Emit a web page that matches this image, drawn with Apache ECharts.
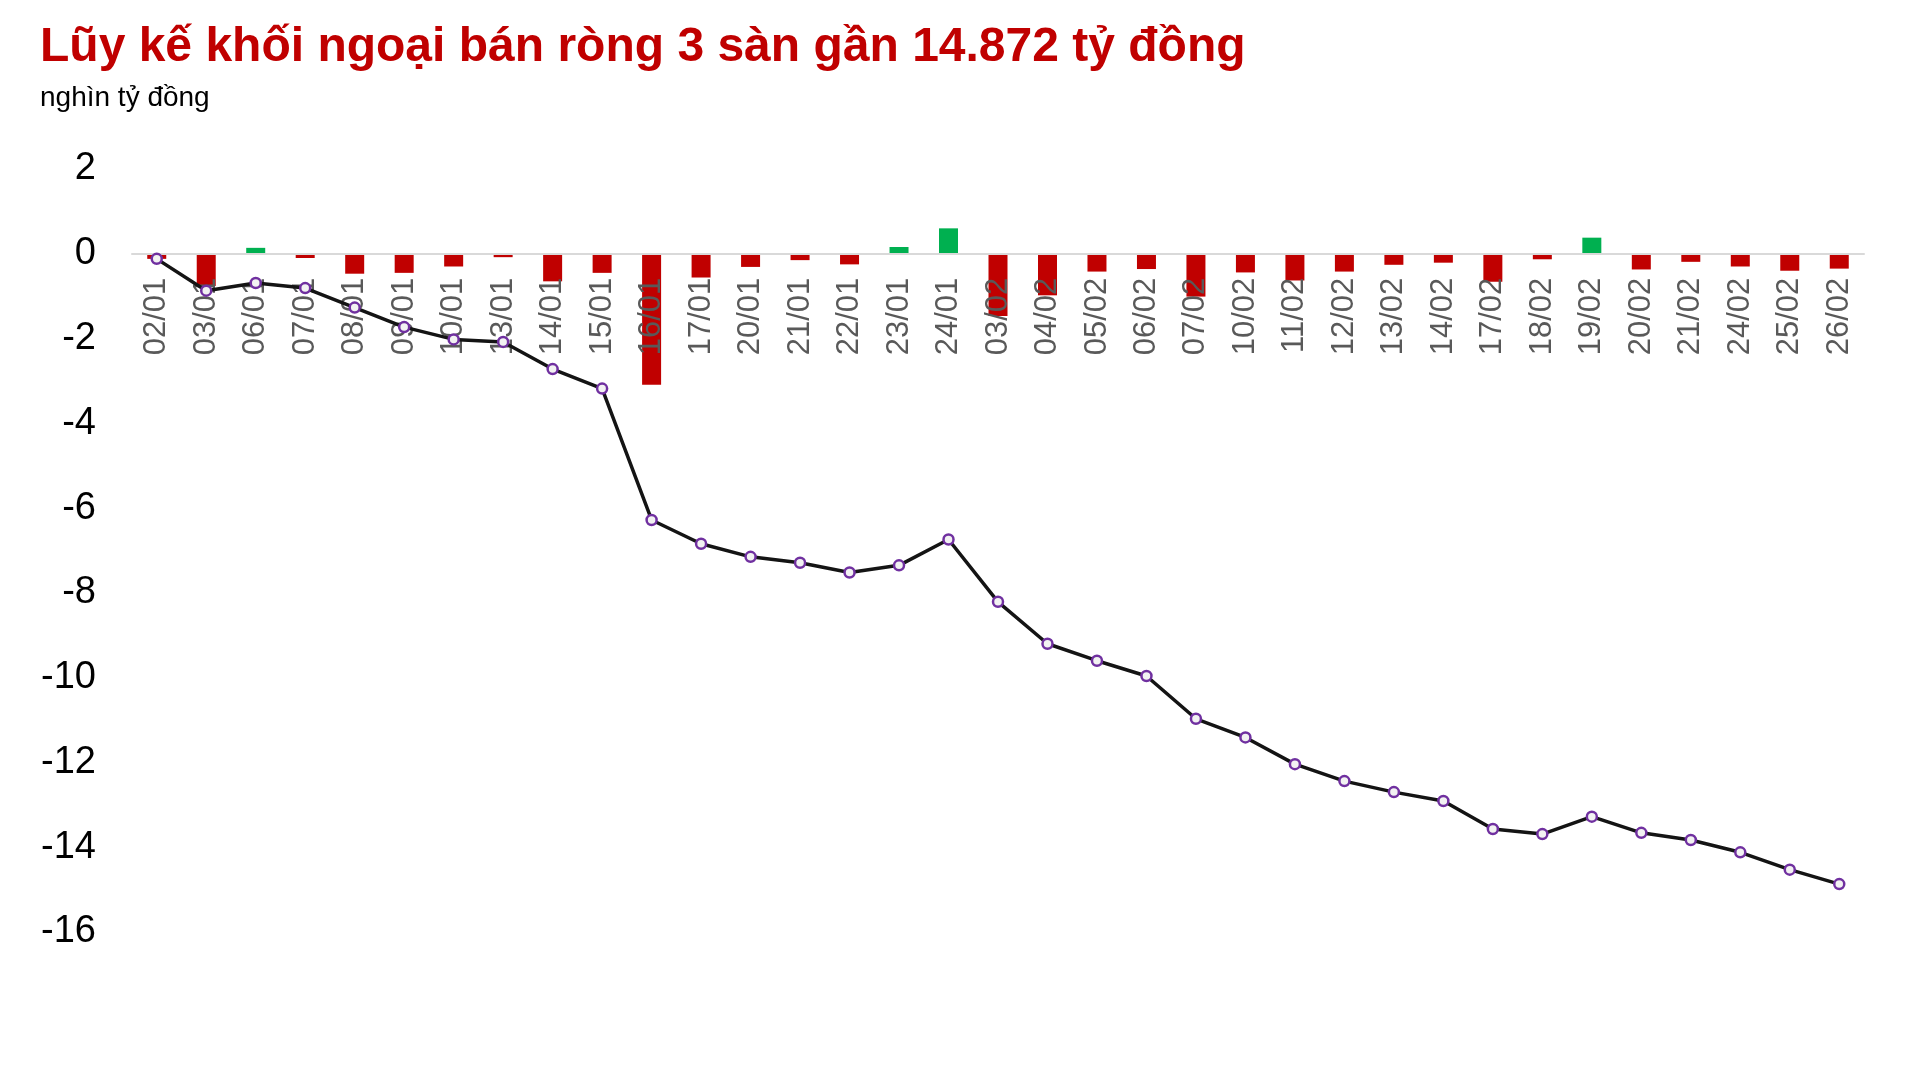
<!DOCTYPE html>
<html>
<head>
<meta charset="utf-8">
<script src="https://cdn.jsdelivr.net/npm/echarts@6/dist/echarts.min.js"></script>
<style>
html,body{margin:0;padding:0;background:#fff;}
#chart{width:1923px;height:1088px;}
</style>
</head>
<body>
<div id="chart"></div>
<script>
const categories = ['02/01','03/01','06/01','07/01','08/01','09/01','10/01','13/01','14/01','15/01','16/01','17/01','20/01','21/01','22/01','23/01','24/01','03/02','04/02','05/02','06/02','07/02','10/02','11/02','12/02','13/02','14/02','17/02','18/02','19/02','20/02','21/02','24/02','25/02','26/02'];
const dailyNet = [-0.12,-0.76,0.14,-0.10,-0.47,-0.45,-0.30,-0.08,-0.65,-0.45,-3.09,-0.56,-0.31,-0.15,-0.25,0.16,0.60,-1.47,-0.98,-0.42,-0.36,-1.01,-0.44,-0.63,-0.42,-0.26,-0.21,-0.66,-0.13,0.38,-0.37,-0.19,-0.30,-0.40,-0.35];
const cumulative = [-0.12,-0.87,-0.69,-0.81,-1.27,-1.73,-2.02,-2.08,-2.72,-3.18,-6.28,-6.84,-7.15,-7.29,-7.52,-7.35,-6.74,-8.21,-9.20,-9.60,-9.96,-10.97,-11.41,-12.04,-12.44,-12.70,-12.91,-13.57,-13.69,-13.28,-13.66,-13.83,-14.12,-14.53,-14.87];
const yTicks = {min:-16, max:2, interval:2};
const titleText = 'Lũy kế khối ngoại bán ròng 3 sàn gần 14.872 tỷ đồng';
const unitText = 'nghìn tỷ đồng';

const chart = echarts.init(document.getElementById('chart'), null, {renderer:'canvas'});
const FONT = '"Liberation Sans", Arial, Helvetica, sans-serif';
const GRID = {left:132, right:59, top:169, bottom:156};
// place rotated labels just below the zero line (axis labels sit at grid bottom)
const plotH = 1088 - GRID.top - GRID.bottom;
const zeroY = GRID.top + plotH * (yTicks.max - 0) / (yTicks.max - yTicks.min);
const labelMargin = (zeroY + 24) - (1088 - GRID.bottom);

chart.setOption({
  animation:false,
  backgroundColor:'#ffffff',
  title:[
    {text:titleText, left:35, top:19, textStyle:{color:'#C00000', fontSize:48, fontWeight:'bold', fontFamily:FONT}},
    {text:unitText, left:35, top:79, textStyle:{color:'#000000', fontSize:28, fontWeight:'normal', fontFamily:FONT}}
  ],
  grid:{left:GRID.left, right:GRID.right, top:GRID.top, bottom:GRID.bottom, containLabel:false},
  xAxis:{
    type:'category', data:categories, z:3,
    axisLine:{show:true, onZero:true, lineStyle:{color:'#D9D9D9', width:2}},
    axisTick:{show:false},
    axisLabel:{interval:0, rotate:90, margin:labelMargin, color:'#595959', fontSize:31, fontFamily:FONT},
    splitLine:{show:false}
  },
  yAxis:{
    type:'value', min:yTicks.min, max:yTicks.max, interval:yTicks.interval,
    axisLine:{show:false}, axisTick:{show:false}, splitLine:{show:false},
    axisLabel:{color:'#000000', fontSize:38, margin:36, fontFamily:FONT}
  },
  series:[
    {
      type:'bar', data:dailyNet, barWidth:19, z:2,
      itemStyle:{color:function(p){return p.value>=0?'#00B050':'#C00000';}}
    },
    {
      type:'line', data:cumulative, z:5,
      symbol:'circle', symbolSize:10, showAllSymbol:true,
      lineStyle:{color:'#141414', width:3.5},
      itemStyle:{color:'#F2F2F2', borderColor:'#7030A0', borderWidth:2.5}
    }
  ]
});
</script>
</body>
</html>
